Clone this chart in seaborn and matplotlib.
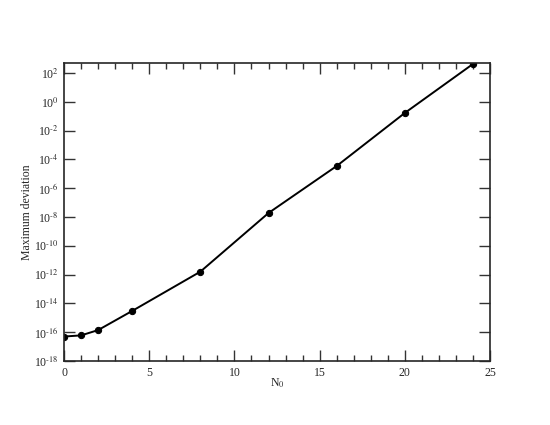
import numpy as np
import pandas as pd
import matplotlib
matplotlib.use('Agg')
import matplotlib.pyplot as plt
import matplotlib.ticker as mticker
import seaborn as sns

# values
n0 = [0, 1, 2, 4, 8, 12, 16, 20, 24]
max_dev = [5e-17, 6e-17, 1.4e-16, 3e-15, 1.6e-12, 1.9e-8, 3.5e-5, 0.17, 430]

df = pd.DataFrame({'N0': n0, 'dev': max_dev})

sns.set_style('ticks')
plt.rcParams['font.family'] = ['Liberation Serif', 'DejaVu Serif']
plt.rcParams['mathtext.fontset'] = 'stix'

fig = plt.figure(figsize=(5.5, 4.25), dpi=100)
ax = fig.add_axes([0.1164, 0.1506, 0.7746, 0.7012])

sns.lineplot(data=df, x='N0', y='dev', ax=ax, color='black', linewidth=1.4,
             marker='o', markersize=4.5, markeredgecolor='black')

ax.set_yscale('log')
ax.set_xlim(0, 25)
ax.set_ylim(1e-18, 10 ** 2.7)

ax.xaxis.set_major_locator(mticker.MultipleLocator(5))
ax.xaxis.set_minor_locator(mticker.MultipleLocator(1))
ax.yaxis.set_major_locator(mticker.FixedLocator([10.0 ** e for e in range(-18, 3, 2)]))
ax.yaxis.set_minor_locator(mticker.NullLocator())
ax.yaxis.set_major_formatter(mticker.FuncFormatter(
    lambda v, p: '10$^{\\text{%d}}$' % round(np.log10(v))))

ax.tick_params(which='both', direction='in', top=True, right=True, labelsize=8.5,
               width=1, color='#333333', pad=4)
ax.tick_params(which='major', length=8)
ax.tick_params(which='minor', length=4)
for s in ax.spines.values():
    s.set_linewidth(1.2)

ax.set_xlabel('N$_0$', fontsize=8.5)
ax.set_ylabel('Maximum deviation', fontsize=8.5)
ax.yaxis.set_label_coords(-0.072, 0.5)
ax.xaxis.set_label_coords(0.5, -0.052)

fig.savefig('out.png', dpi=100)
